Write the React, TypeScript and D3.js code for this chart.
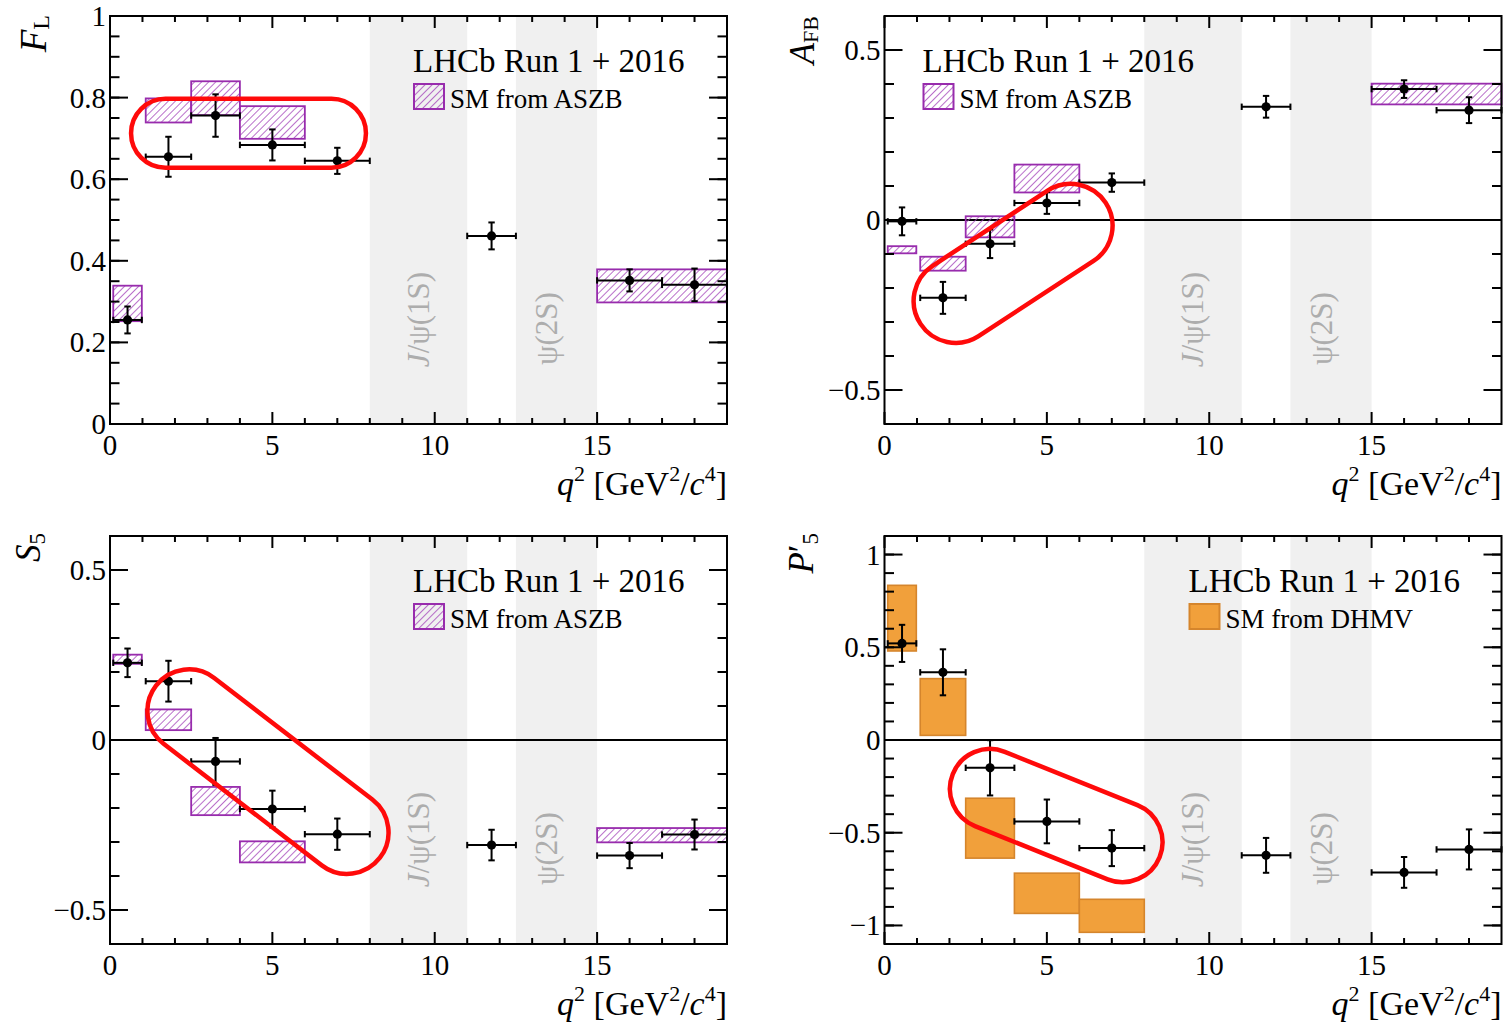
import React from "react";
import * as d3 from "d3";

// q^2 binning of the measurement [GeV^2/c^4]
const binLo = [0.1, 1.1, 2.5, 4.0, 6.0, 11.0, 15.0, 17.0];
const binHi = [0.98, 2.5, 4.0, 6.0, 8.0, 12.5, 17.0, 19.0];

// Measured angular observables and total uncertainties
const flValue = [0.255, 0.655, 0.756, 0.684, 0.645, 0.461, 0.352, 0.341];
const flError = [0.033, 0.049, 0.052, 0.038, 0.032, 0.033, 0.027, 0.040];
const afbValue = [-0.004, -0.229, -0.07, 0.05, 0.11, 0.333, 0.385, 0.323];
const afbError = [0.041, 0.047, 0.042, 0.032, 0.027, 0.032, 0.026, 0.038];
const s5Value = [0.227, 0.173, -0.063, -0.203, -0.277, -0.309, -0.34, -0.278];
const s5Error = [0.042, 0.06, 0.069, 0.054, 0.046, 0.045, 0.037, 0.044];
const p5pValue = [0.521, 0.365, -0.15, -0.439, -0.583, -0.622, -0.714, -0.59];
const p5pError = [0.1, 0.124, 0.149, 0.118, 0.097, 0.094, 0.083, 0.108];

// SM predictions (ASZB), hatched boxes
const aszbLo = [0.1, 1.1, 2.5, 4.0, 15.0];
const aszbHi = [0.98, 2.5, 4.0, 6.0, 19.0];
const flSmLow = [0.252, 0.739, 0.757, 0.699, 0.298];
const flSmHigh = [0.339, 0.798, 0.84, 0.779, 0.379];
const afbSmLow = [-0.098, -0.149, -0.051, 0.081, 0.34];
const afbSmHigh = [-0.077, -0.108, 0.011, 0.163, 0.401];
const s5SmLow = [0.224, 0.029, -0.221, -0.36, -0.301];
const s5SmHigh = [0.251, 0.09, -0.138, -0.298, -0.259];

// SM predictions (DHMV), filled boxes
const dhmvLo = [0.1, 1.1, 2.5, 4.0, 6.0];
const dhmvHi = [0.98, 2.5, 4.0, 6.0, 8.0];
const p5pSmLow = [0.48, 0.025, -0.637, -0.935, -1.037];
const p5pSmHigh = [0.834, 0.331, -0.314, -0.718, -0.859];

// Charmonium veto regions
const vetoLo = [8.0, 12.5];
const vetoHi = [11.0, 15.0];

// Axis ticks
const xTickValues = [0, 5, 10, 15];
const xTickLabels = ["0", "5", "10", "15"];
const flTickValues = [0, 0.2, 0.4, 0.6, 0.8, 1];
const flTickLabels = ["0", "0.2", "0.4", "0.6", "0.8", "1"];
const afbTickValues = [-0.5, 0, 0.5];
const afbTickLabels = ["\u22120.5", "0", "0.5"];
const s5TickValues = [-0.5, 0, 0.5];
const s5TickLabels = ["\u22120.5", "0", "0.5"];
const p5pTickValues = [-1, -0.5, 0, 0.5, 1];
const p5pTickLabels = ["\u22121", "\u22120.5", "0", "0.5", "1"];

// Highlight outlines: end-cap centres in (q^2, observable), radius in px
const flMark = { from: [1.71, 0.7125], to: [6.82, 0.7125], radius: 34.5 };
const afbMark = { from: [2.19, -0.238], to: [5.73, -0.017], radius: 42 };
const s5Mark = { from: [2.43, 0.0856], to: [7.3, -0.272], radius: 41.5 };
const p5pMark = { from: [3.245, -0.264], to: [7.33, -0.551], radius: 40 };

const PURPLE = "#982cad";
const HATCH = "#a23fb8";
const ORANGE = "#f1a03b";
const ORANGE_EDGE = "#d5852c";
const BAND = "#f0f0f0";
const BAND_TEXT = "#adadad";
const RED = "#ff0a0a";
const FONT = "'Liberation Serif','DejaVu Serif','Times New Roman',serif";

const PW = 617;
const PH = 408;

function capsulePath(x1: number, y1: number, x2: number, y2: number, r: number) {
  const dx = x2 - x1;
  const dy = y2 - y1;
  const len = Math.hypot(dx, dy) || 1;
  const nx = -dy / len;
  const ny = dx / len;
  return (
    `M${x1 + nx * r},${y1 + ny * r} L${x2 + nx * r},${y2 + ny * r} ` +
    `A${r},${r} 0 0 0 ${x2 - nx * r},${y2 - ny * r} ` +
    `L${x1 - nx * r},${y1 - ny * r} ` +
    `A${r},${r} 0 0 0 ${x1 + nx * r},${y1 + ny * r} Z`
  );
}

type PanelCfg = {
  ox: number;
  oy: number;
  yDomain: [number, number];
  yMinorStep: number;
  yTickValues: number[];
  yTickLabels: string[];
  values: number[];
  errors: number[];
  smLo: number[];
  smHi: number[];
  smLow: number[];
  smHigh: number[];
  smSolid: boolean;
  legend: string;
  headerDx: number;
  zeroLine: boolean;
  mark: { from: number[]; to: number[]; radius: number };
  yTitle: (ox: number, oy: number) => React.ReactNode;
};

function XTitle({ right, base }: { right: number; base: number }) {
  return (
    <text x={right} y={base} textAnchor="end" fontSize={34}>
      <tspan fontStyle="italic">q</tspan>
      <tspan fontSize={22} dy={-14}>2</tspan>
      <tspan dy={14}>{"\u00a0[GeV"}</tspan>
      <tspan fontSize={22} dy={-14}>2</tspan>
      <tspan dy={14}>/</tspan>
      <tspan fontStyle="italic">c</tspan>
      <tspan fontSize={22} dy={-14}>4</tspan>
      <tspan dy={14}>]</tspan>
    </text>
  );
}

function Panel({ cfg }: { cfg: PanelCfg }) {
  const { ox, oy } = cfg;
  const x = d3.scaleLinear().domain([0, 19]).range([ox, ox + PW]);
  const y = d3.scaleLinear().domain(cfg.yDomain).range([oy + PH, oy]);
  const eps = 1e-9;

  const xMinor = d3.range(1, 19, 1).filter((v) => v % 5 !== 0);
  const [y0, y1] = cfg.yDomain;
  const yMinor = d3
    .range(Math.ceil((y0 - eps) / cfg.yMinorStep), Math.floor((y1 + eps) / cfg.yMinorStep) + 1)
    .map((k) => +(k * cfg.yMinorStep).toFixed(4))
    .filter((v) => v > y0 + eps && v < y1 - eps);

  const xMajLen = 12;
  const xMinLen = 6;
  const yMajLen = 18;
  const yMinLen = 9.5;
  const bottom = oy + PH;
  const right = ox + PW;

  const cap = 3.2;
  const mk = cfg.mark;
  const hx = ox + cfg.headerDx;

  return (
    <g>
      {/* veto bands */}
      {vetoLo.map((lo, i) => (
        <rect key={"b" + i} x={x(lo)} y={oy} width={x(vetoHi[i]) - x(lo)} height={PH} fill={BAND} />
      ))}
      <text
        transform={`translate(${x(9.82)},${oy + PH * 0.744}) rotate(-90)`}
        textAnchor="middle"
        fontSize={31}
        fill={BAND_TEXT}
      >
        <tspan fontStyle="italic">J</tspan>/ψ(1S)
      </text>
      <text
        transform={`translate(${x(13.78)},${oy + PH * 0.766}) rotate(-90)`}
        textAnchor="middle"
        fontSize={31}
        fill={BAND_TEXT}
      >
        ψ(2S)
      </text>

      {cfg.zeroLine && (
        <line x1={ox} x2={right} y1={y(0)} y2={y(0)} stroke="#000" strokeWidth={2} />
      )}

      {/* SM prediction boxes */}
      {cfg.smLo.map((lo, i) => (
        <rect
          key={"s" + i}
          x={x(lo)}
          y={y(cfg.smHigh[i])}
          width={x(cfg.smHi[i]) - x(lo)}
          height={y(cfg.smLow[i]) - y(cfg.smHigh[i])}
          fill={cfg.smSolid ? ORANGE : "url(#hatch)"}
          stroke={cfg.smSolid ? ORANGE_EDGE : PURPLE}
          strokeWidth={cfg.smSolid ? 1.6 : 1.8}
        />
      ))}

      {/* data points with error bars */}
      {cfg.values.map((v, i) => {
        const xl = x(binLo[i]);
        const xr = x(binHi[i]);
        const xc = x((binLo[i] + binHi[i]) / 2);
        const yc = y(v);
        const yt = y(v + cfg.errors[i]);
        const yb = y(v - cfg.errors[i]);
        return (
          <g key={"p" + i} stroke="#000" strokeWidth={2}>
            <line x1={xl} x2={xr} y1={yc} y2={yc} />
            <line x1={xl} x2={xl} y1={yc - cap} y2={yc + cap} />
            <line x1={xr} x2={xr} y1={yc - cap} y2={yc + cap} />
            <line x1={xc} x2={xc} y1={yt} y2={yb} />
            <line x1={xc - cap} x2={xc + cap} y1={yt} y2={yt} />
            <line x1={xc - cap} x2={xc + cap} y1={yb} y2={yb} />
            <circle cx={xc} cy={yc} r={4.6} fill="#000" stroke="none" />
          </g>
        );
      })}

      {/* frame and ticks */}
      <rect x={ox} y={oy} width={PW} height={PH} fill="none" stroke="#000" strokeWidth={2} />
      <g stroke="#000" strokeWidth={2}>
        {xTickValues.map((t) => (
          <g key={"xM" + t}>
            <line x1={x(t)} x2={x(t)} y1={bottom} y2={bottom - xMajLen} />
            <line x1={x(t)} x2={x(t)} y1={oy} y2={oy + xMajLen} />
          </g>
        ))}
        {xMinor.map((t) => (
          <g key={"xm" + t}>
            <line x1={x(t)} x2={x(t)} y1={bottom} y2={bottom - xMinLen} />
            <line x1={x(t)} x2={x(t)} y1={oy} y2={oy + xMinLen} />
          </g>
        ))}
        {yMinor.map((t) => (
          <g key={"ym" + t}>
            <line x1={ox} x2={ox + yMinLen} y1={y(t)} y2={y(t)} />
            <line x1={right} x2={right - yMinLen} y1={y(t)} y2={y(t)} />
          </g>
        ))}
        {cfg.yTickValues.map((t) => (
          <g key={"yM" + t}>
            <line x1={ox} x2={ox + yMajLen} y1={y(t)} y2={y(t)} />
            <line x1={right} x2={right - yMajLen} y1={y(t)} y2={y(t)} />
          </g>
        ))}
      </g>

      {/* tick labels */}
      {xTickValues.map((t, i) => (
        <text key={"xl" + t} x={x(t)} y={bottom + 31} textAnchor="middle" fontSize={29}>
          {xTickLabels[i]}
        </text>
      ))}
      {cfg.yTickValues.map((t, i) => (
        <text key={"yl" + t} x={ox - 4} y={y(t) + 10} textAnchor="end" fontSize={29}>
          {cfg.yTickLabels[i]}
        </text>
      ))}

      <XTitle right={right} base={bottom + 71} />
      {cfg.yTitle(ox, oy)}

      {/* header and legend */}
      <text x={hx} y={oy + 56} fontSize={33}>
        LHCb Run 1 + 2016
      </text>
      <rect
        x={hx + 1}
        y={oy + 68}
        width={30}
        height={25}
        fill={cfg.smSolid ? ORANGE : "url(#hatch)"}
        stroke={cfg.smSolid ? ORANGE_EDGE : PURPLE}
        strokeWidth={2}
      />
      <text x={hx + 37} y={oy + 92} fontSize={27}>
        {cfg.legend}
      </text>

      {/* highlight outline */}
      <path
        d={capsulePath(x(mk.from[0]), y(mk.from[1]), x(mk.to[0]), y(mk.to[1]), mk.radius)}
        fill="none"
        stroke={RED}
        strokeWidth={4.5}
      />
    </g>
  );
}

const panels: PanelCfg[] = [
  {
    ox: 110,
    oy: 16,
    yDomain: [0, 1],
    yMinorStep: 0.05,
    yTickValues: flTickValues,
    yTickLabels: flTickLabels,
    values: flValue,
    errors: flError,
    smLo: aszbLo,
    smHi: aszbHi,
    smLow: flSmLow,
    smHigh: flSmHigh,
    smSolid: false,
    legend: "SM from ASZB",
    headerDx: 303,
    zeroLine: false,
    mark: flMark,
    yTitle: (ox, oy) => (
      <text transform={`translate(${ox - 64},${oy - 1}) rotate(-90)`} textAnchor="end" fontSize={37}>
        <tspan fontStyle="italic">F</tspan>
        <tspan fontSize={24} dy={3}>L</tspan>
      </text>
    ),
  },
  {
    ox: 884.5,
    oy: 16,
    yDomain: [-0.6, 0.6],
    yMinorStep: 0.1,
    yTickValues: afbTickValues,
    yTickLabels: afbTickLabels,
    values: afbValue,
    errors: afbError,
    smLo: aszbLo,
    smHi: aszbHi,
    smLow: afbSmLow,
    smHigh: afbSmHigh,
    smSolid: false,
    legend: "SM from ASZB",
    headerDx: 38,
    zeroLine: true,
    mark: afbMark,
    yTitle: (ox, oy) => (
      <text transform={`translate(${ox - 71},${oy}) rotate(-90)`} textAnchor="end" fontSize={35}>
        <tspan fontStyle="italic">A</tspan>
        <tspan fontSize={22} dy={4}>FB</tspan>
      </text>
    ),
  },
  {
    ox: 110,
    oy: 536,
    yDomain: [-0.6, 0.6],
    yMinorStep: 0.1,
    yTickValues: s5TickValues,
    yTickLabels: s5TickLabels,
    values: s5Value,
    errors: s5Error,
    smLo: aszbLo,
    smHi: aszbHi,
    smLow: s5SmLow,
    smHigh: s5SmHigh,
    smSolid: false,
    legend: "SM from ASZB",
    headerDx: 303,
    zeroLine: true,
    mark: s5Mark,
    yTitle: (ox, oy) => (
      <text transform={`translate(${ox - 70},${oy - 3}) rotate(-90)`} textAnchor="end" fontSize={35}>
        <tspan fontStyle="italic">S</tspan>
        <tspan fontSize={23} dy={5}>5</tspan>
      </text>
    ),
  },
  {
    ox: 884.5,
    oy: 536,
    yDomain: [-1.1, 1.1],
    yMinorStep: 0.1,
    yTickValues: p5pTickValues,
    yTickLabels: p5pTickLabels,
    values: p5pValue,
    errors: p5pError,
    smLo: dhmvLo,
    smHi: dhmvHi,
    smLow: p5pSmLow,
    smHigh: p5pSmHigh,
    smSolid: true,
    legend: "SM from DHMV",
    headerDx: 304,
    zeroLine: true,
    mark: p5pMark,
    yTitle: (ox, oy) => (
      <text transform={`translate(${ox - 72},${oy - 3}) rotate(-90)`} textAnchor="end" fontSize={35}>
        <tspan fontStyle="italic">P</tspan>
        <tspan>{"\u2032"}</tspan>
        <tspan fontSize={23} dy={5}>5</tspan>
      </text>
    ),
  },
];

export default function App() {
  return (
    <svg
      width={1504}
      height={1023}
      style={{ position: "absolute", left: 0, top: 0, background: "#fff" }}
      fontFamily={FONT}
    >
      <defs>
        <pattern id="hatch" patternUnits="userSpaceOnUse" width={5} height={5} patternTransform="rotate(45)">
          <line x1={0} y1={0} x2={0} y2={5} stroke={HATCH} strokeWidth={1.5} />
        </pattern>
      </defs>
      <rect width={1504} height={1023} fill="#fff" />
      {panels.map((p, i) => (
        <Panel key={i} cfg={p} />
      ))}
    </svg>
  );
}
